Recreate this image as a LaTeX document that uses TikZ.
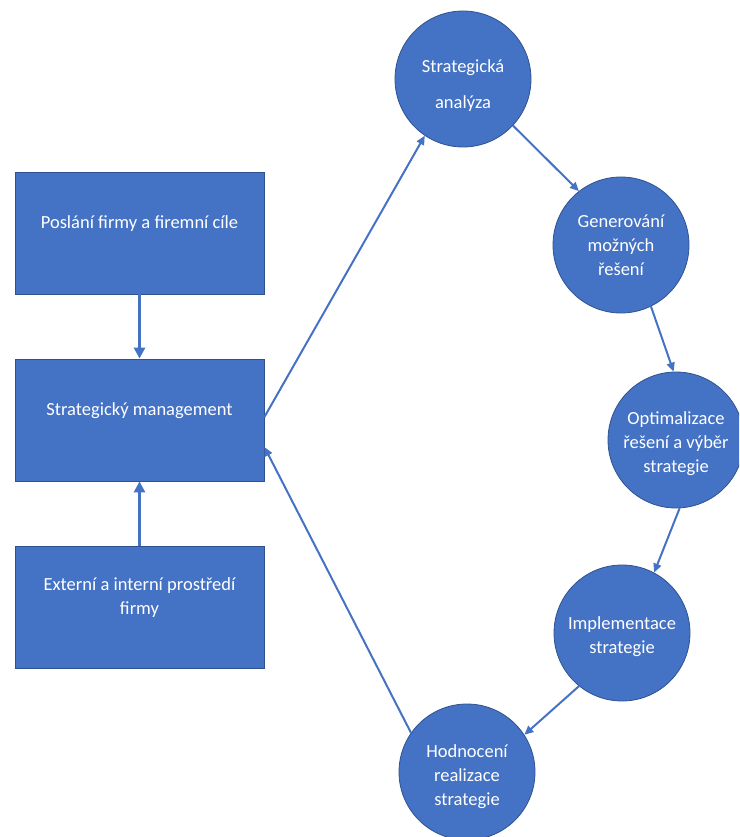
\documentclass[tikz,border=0pt]{standalone}
\usepackage{fontspec}
\setmainfont{Carlito}
\usetikzlibrary{arrows.meta}
\definecolor{office}{HTML}{4472C4}
\definecolor{officedark}{HTML}{2F528F}
\newcommand{\lift}{\rule[-22pt]{0pt}{0pt}}
\newcommand{\drop}[1]{\rule{0pt}{#1}}
\begin{document}
\begin{tikzpicture}[
	x = 1pt, y = -1pt,
	every node/.style = {font = \fontsize{18.5}{24}\selectfont, text = white, align = center},
	box/.style = {rectangle, fill = office, draw = officedark, line width = 0.8pt, minimum width = 249pt, minimum height = 122pt, inner sep = 0pt},
	step circle/.style = {circle, fill = office, draw = officedark, line width = 0.8pt, minimum size = 136pt, inner sep = 0pt},
	fat arrow/.style = {office, line width = 3pt, -{Triangle[length=11pt,width=11pt]}},
	thin arrow/.style = {office, line width = 2pt, -{Triangle[length=9pt,width=8pt]}}]

	\clip (0,0) rectangle (739,837);

	% left column
	\node[box] (mise) at (139.5,233) {Poslání firmy a firemní cíle\lift};
	\node[box] (sm) at (139.5,420) {Strategický management\lift};
	\node[box] (prostredi) at (139.5,607.5) {Externí a interní prostředí\\firmy\lift};

	\draw[fat arrow] (mise.south) -- (sm.north);
	\draw[fat arrow] (prostredi.north) -- (sm.south);

	% cycle
	\node[step circle] (analyza) at (463,79) {\drop{25pt}Strategická\\[12pt]analýza};
	\node[step circle] (reseni) at (621,245) {Generování\\možných\\řešení};
	\node[step circle] (vyber) at (676,440) {\drop{21pt}Optimalizace\\řešení a výběr\\strategie};
	\node[step circle] (impl) at (622,633) {\drop{21pt}Implementace\\strategie};
	\node[step circle] (hodn) at (467,772) {\drop{22pt}Hodnocení\\realizace\\strategie};

	\draw[thin arrow] ([yshift=3pt]sm.east) -- (analyza.236);
	\draw[thin arrow] (analyza.317) -- (reseni.128);
	\draw[thin arrow] (reseni.296) -- (vyber.92);
	\draw[thin arrow] (vyber.273) -- (impl.62);
	\draw[thin arrow] (impl.231) -- (hodn.33);
	\draw[thin arrow] (hodn.145) -- ([yshift=-27pt]sm.east);

\end{tikzpicture}
\end{document}
